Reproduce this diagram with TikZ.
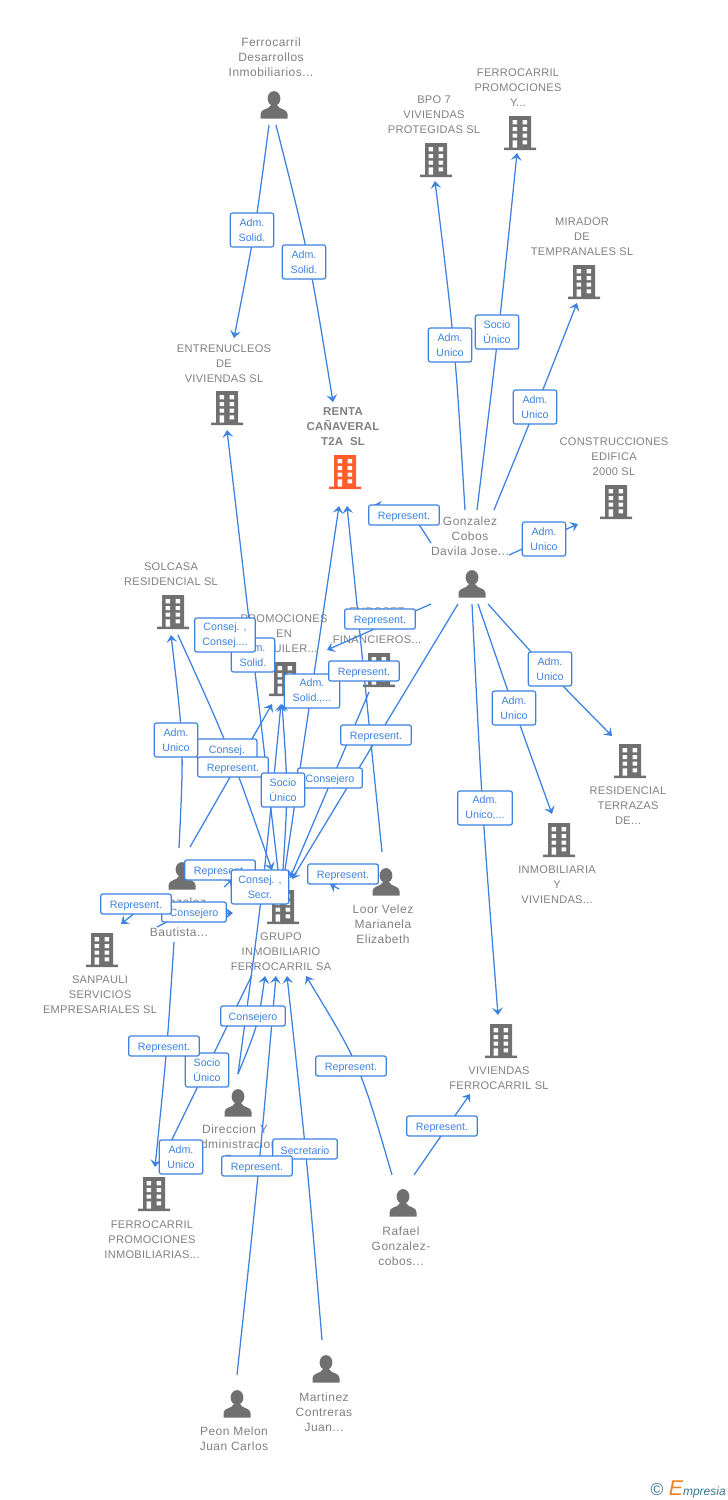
\documentclass[tikz,border=0pt]{standalone}
\usepackage{fontspec}
\setmainfont{Liberation Sans}
\newfontfamily\personfont[LetterSpace=4]{Liberation Sans}
\newfontfamily\orgfont[LetterSpace=2.5]{Liberation Sans}
\newfontfamily\mainorgfont[LetterSpace=2]{Liberation Sans}
\usetikzlibrary{arrows.meta}
\definecolor{linkblue}{RGB}{61,130,224}
\definecolor{icongray}{RGB}{112,112,112}
\definecolor{namegray}{RGB}{128,128,128}
\definecolor{mainorange}{RGB}{255,94,44}
\definecolor{logoteal}{RGB}{56,116,146}
\definecolor{logoorange}{RGB}{240,130,30}
\tikzset{
  link/.style={draw=linkblue,line width=0.95pt,-{Stealth[length=5.5pt,width=8pt,inset=2.2pt]}},
  tag/.style={draw=linkblue,fill=white,rounded corners=1.6pt,line width=0.9pt,text=linkblue,inner sep=0pt,
    align=center,minimum height=15pt,font=\fontsize{8}{11.25}\selectfont,execute at begin node={\rule{0pt}{8.2pt}}},
  tagone/.style={tag,minimum width=53pt},
  tagcons/.style={tag,minimum width=48.5pt},
  tagtwo/.style={tag,minimum width=32.5pt,minimum height=25.5pt},
  personname/.style={text=namegray,align=center,inner sep=0pt,font=\personfont\fontsize{9}{11.25}\selectfont},
  orgname/.style={text=namegray,align=center,inner sep=0pt,yshift=-0.75pt,font=\orgfont\fontsize{8.3}{11.25}\selectfont},
  person/.style={inner sep=0pt,minimum size=30pt,path picture={
    \fill[icongray] (0,6.5) ellipse (6.4 and 7.4);
    \fill[icongray] (-13.5,-13.5) -- (-13.5,-9) .. controls (-13.5,-3.5) and (-5,-5) .. (-3,0) -- (3,0) .. controls (5,-5) and (13.5,-3.5) .. (13.5,-9) -- (13.5,-13.5) -- cycle;}},
  building/.default=icongray,
  building/.style={inner sep=0pt,minimum size=30pt,path picture={
    \fill[#1] (-11,17) rectangle (11,-15) (-16,-14.6) rectangle (16,-17);
    \fill[white] (-7.5,13) rectangle (-3,8.7) (2.5,13) rectangle (7,8.7)
      (-7.5,6) rectangle (-3,2) (2.5,6) rectangle (7,2)
      (-7.5,-0.7) rectangle (-3,-4.7) (2.5,-0.7) rectangle (7,-4.7)
      (-7.5,-7.3) rectangle (-3,-14.6) (2.5,-7.3) rectangle (7,-11.3);}},
}
\begin{document}
\begin{tikzpicture}[x=0.75pt,y=0.75pt,yscale=-1,xscale=1]
\useasboundingbox (0,0) rectangle (728,1500);

% Persons
\node [person] (fd) at (274,105) {};
\node [person] (go) at (472,584) {};
\node [person] (lo) at (386,882) {};
\node [person] (ba) at (182,876) {};
\node [person] (di) at (238,1103) {};
\node [person] (ra) at (403,1203) {};
\node [person] (ma) at (326,1369) {};
\node [person] (pe) at (237,1404) {};
\node [personname] (fdname) at (271,57) {Ferrocarril\\Desarrollos\\Inmobiliarios...};
\node [personname] (goname) at (470,536) {Gonzalez\\Cobos\\Davila Jose...};
\node [personname] (loname) at (383,924) {Loor Velez\\Marianela\\Elizabeth};
\node [personname] (baname) at (179,917) {Gonzalez\\Jose\\Bautista...};
\node [personname] (diname) at (235,1144) {Direccion Y\\Administracion\\D...};
\node [personname] (raname) at (401,1246) {Rafael\\Gonzalez-\\cobos...};
\node [personname] (maname) at (324,1412) {Martinez\\Contreras\\Juan...};
\node [personname] (pename) at (234,1438.5) {Peon Melon\\Juan Carlos};

% Companies
\node [building] (fp) at (520,133) {};
\node [building] (bp) at (436,160) {};
\node [building] (mi) at (584,282) {};
\node [building] (en) at (227,408) {};
\node [building=mainorange] (re) at (345,472) {};
\node [building] (co) at (616,502) {};
\node [building] (so) at (173,612) {};
\node [building] (pr) at (285,679) {};
\node [building] (eu) at (379,670) {};
\node [building] (ti) at (630,761) {};
\node [building] (in) at (559,840) {};
\node [building] (vi) at (501,1041) {};
\node [building] (gr) at (283,907) {};
\node [building] (sa) at (102,950) {};
\node [building] (fi) at (154,1194) {};
\node [orgname] (fpname) at (518,87) {FERROCARRIL\\PROMOCIONES\\Y...};
\node [orgname] (bpname) at (434,114) {BPO 7\\VIVIENDAS\\PROTEGIDAS SL};
\node [orgname] (miname) at (582,236) {MIRADOR\\DE\\TEMPRANALES SL};
\node [orgname] (enname) at (224,363) {ENTRENUCLEOS\\DE\\VIVIENDAS SL};
\node [orgname,font=\mainorgfont\bfseries\fontsize{8.6}{11.25}\selectfont] (rename) at (343,426) {RENTA\\CAÑAVERAL\\T2A~~SL};
\node [orgname] (coname) at (614,456) {CONSTRUCCIONES\\EDIFICA\\2000 SL};
\node [orgname] (soname) at (171,573.5) {SOLCASA\\RESIDENCIAL SL};
\node [orgname] (prname) at (284,634) {PROMOCIONES\\EN\\ALQUILER...};
\node [orgname] (euname) at (377,625) {EUROSET\\[9.75pt]FINANCIEROS...};
\node [orgname] (tiname) at (628,805) {RESIDENCIAL\\TERRAZAS\\DE...};
\node [orgname] (inname) at (557,884) {INMOBILIARIA\\Y\\VIVIENDAS...};
\node [orgname] (viname) at (499,1077.5) {VIVIENDAS\\FERROCARRIL SL};
\node [orgname] (grname) at (281,951) {GRUPO\\INMOBILIARIO\\FERROCARRIL SA};
\node [orgname] (saname) at (100,994) {SANPAULI\\SERVICIOS\\EMPRESARIALES SL};
\node [orgname] (finame) at (152,1239) {FERROCARRIL\\PROMOCIONES\\INMOBILIARIAS...};

% Connector ends
\coordinate (fd-en) at (269,125);  \coordinate (en-fd) at (234,338);
\coordinate (fd-re) at (276,125);  \coordinate (re-fd) at (333,402);
\coordinate (go-bp) at (465,510);  \coordinate (bp-go) at (435,181);
\coordinate (go-fp) at (477,510);  \coordinate (fp-go) at (517,153);
\coordinate (go-mi) at (494,510);  \coordinate (mi-go) at (577,303);
\coordinate (go-re) at (431,543);  \coordinate (re-go) at (374,505);
\coordinate (go-co) at (509,555);  \coordinate (co-go) at (578,524);
\coordinate (go-ti) at (488,604);  \coordinate (ti-go) at (612,736);
\coordinate (go-in) at (478,604);  \coordinate (in-go) at (552,814);
\coordinate (go-vi) at (472,604);  \coordinate (vi-go) at (498,1015);
\coordinate (go-pr) at (431,604);  \coordinate (pr-go) at (327,650);
\coordinate (go-gr) at (458,604);  \coordinate (gr-go) at (292,879);
\coordinate (lo-re) at (382,852);  \coordinate (re-lo) at (347,506);
\coordinate (lo-gr) at (339,889);  \coordinate (gr-lo) at (330,884);
\coordinate (so-gr) at (178,635);  \coordinate (gr-so) at (272,870);
\coordinate (ba-so) at (179,848);  \coordinate (so-ba) at (171,635);
\coordinate (ba-pr) at (190,847);  \coordinate (pr-ba) at (272,704);
\coordinate (gr-en) at (278,870);  \coordinate (en-gr) at (227,430);
\coordinate (gr-pr) at (283,870);  \coordinate (pr-gr) at (282,704);
\coordinate (di-pr) at (238,1074); \coordinate (pr-di) at (281,704);
\coordinate (gr-re) at (285,870);  \coordinate (re-gr) at (339,506);
\coordinate (eu-gr) at (369,692);  \coordinate (gr-eu) at (290,878);
\coordinate (ba-gr) at (224,887);  \coordinate (gr-ba) at (233,879);
\coordinate (ba-sa) at (136,912);  \coordinate (sa-ba) at (121,924);
\coordinate (sa-gr) at (157,927);  \coordinate (gr-sa) at (233,913);
\coordinate (ba-fi) at (174,942);  \coordinate (fi-ba) at (155,1167);
\coordinate (gr-fi) at (252,975);  \coordinate (fi-gr) at (162,1160);
\coordinate (di-gr) at (238,1074); \coordinate (gr-di) at (265,976);
\coordinate (pe-gr) at (237,1375); \coordinate (gr-pe) at (276,976);
\coordinate (ma-gr) at (322,1340); \coordinate (gr-ma) at (287,976);
\coordinate (ra-gr) at (392,1175); \coordinate (gr-ra) at (306,976);
\coordinate (ra-vi) at (414,1175); \coordinate (vi-ra) at (470,1094);

% Connectors
\draw [link] (fd-en) .. controls (255,231) .. (en-fd);
\draw [link] (fd-re) .. controls (309,255) .. (re-fd);
\draw [link] (go-bp) .. controls (455,345) .. (bp-go);
\draw [link] (go-fp) .. controls (499,330) .. (fp-go);
\draw [link] (go-mi) .. controls (537,405) .. (mi-go);
\draw [link] (go-re) .. controls (410,510) .. (re-go);
\draw [link] (go-co) -- (co-go);
\draw [link] (go-ti) .. controls (548,671) .. (ti-go);
\draw [link] (go-in) .. controls (513,706) .. (in-go);
\draw [link] (go-vi) .. controls (482,808) .. (vi-go);
\draw [link] (go-pr) -- (pr-go);
\draw [link] (go-gr) -- (gr-go);
\draw [link] (lo-re) -- (re-lo);
\draw [link] (lo-gr) -- (gr-lo);
\draw [link] (so-gr) .. controls (228,745) .. (gr-so);
\draw [link] (ba-so) .. controls (184,745) .. (so-ba);
\draw [link] (ba-pr) -- (pr-ba);
\draw [link] (gr-en) -- (en-gr);
\draw [link] (gr-pr) .. controls (288,790) .. (pr-gr);
\draw [link] (di-pr) .. controls (263,890) .. (pr-di);
\draw [link] (gr-re) -- (re-gr);
\draw [link] (eu-gr) -- (gr-eu);
\draw [link] (ba-gr) -- (gr-ba);
\draw [link] (ba-sa) -- (sa-ba);
\draw [link] (sa-gr) .. controls (180,915) .. (gr-sa);
\draw [link] (ba-fi) .. controls (167,1050) .. (fi-ba);
\draw [link] (gr-fi) -- (fi-gr);
\draw [link] (di-gr) .. controls (258,1025) .. (gr-di);
\draw [link] (pe-gr) .. controls (259,1170) .. (gr-pe);
\draw [link] (ma-gr) .. controls (307,1160) .. (gr-ma);
\draw [link] (ra-gr) .. controls (360,1065) .. (gr-ra);
\draw [link] (ra-vi) -- (vi-ra);

% Connector labels
\node [tagtwo] (t1) at (252,230) {Adm.\\Solid.};
\node [tagtwo] (t2) at (304,262) {Adm.\\Solid.};
\node [tagtwo] (t3) at (450,345) {Adm.\\Unico};
\node [tagtwo] (t4) at (497,332) {Socio\\Único};
\node [tagtwo] (t5) at (535,407) {Adm.\\Unico};
\node [tagone] (t6) at (404,515) {Represent.};
\node [tagtwo] (t7) at (544,539) {Adm.\\Unico};
\node [tagtwo] (t8) at (550,669) {Adm.\\Unico};
\node [tagtwo] (t9) at (514,708) {Adm.\\Unico};
\node [tagtwo,minimum width=41pt] (t10) at (485,808) {Adm.\\Unico,...};
\node [tagtwo] (t11) at (253,655) {Adm.\\Solid.};
\node [tagtwo,minimum width=45.5pt] (t12) at (225,635) {Consej. ,\\Consej....};
\node [tagone] (t13) at (380,619) {Represent.};
\node [tagtwo,minimum width=41.5pt] (t14) at (312,691) {Adm.\\Solid.,...};
\node [tagone] (t15) at (364,671) {Represent.};
\node [tagone] (t16) at (376,735) {Represent.};
\node [tagone,minimum width=45pt] (t17) at (227,749) {Consej.};
\node [tagtwo] (t18) at (176,740) {Adm.\\Unico};
\node [tagone] (t19) at (233,767) {Represent.};
\node [tagcons] (t20) at (330,778) {Consejero};
\node [tagtwo] (t21) at (283,790) {Socio\\Único};
\node [tagone] (t22) at (220,870) {Represent.};
\node [tagtwo,minimum width=43pt] (t23) at (260,887) {Consej. ,\\Secr.};
\node [tagone] (t24) at (343,874) {Represent.};
\node [tagcons] (t25) at (194,912) {Consejero};
\node [tagone] (t26) at (136,904) {Represent.};
\node [tagcons] (t27) at (253,1016) {Consejero};
\node [tagtwo] (t28) at (207,1070) {Socio\\Único};
\node [tagone] (t29) at (164,1046) {Represent.};
\node [tagone] (t30) at (351,1066) {Represent.};
\node [tagone] (t31) at (442,1126) {Represent.};
\node [tagtwo] (t32) at (181,1157) {Adm.\\Unico};
\node [tagcons] (t33) at (305,1149) {Secretario};
\node [tagone] (t34) at (257,1166) {Represent.};

% Logo
\node [text=logoteal,inner sep=0pt,font=\fontsize{13}{13}\selectfont] (copyr) at (657,1489) {©};
\node [anchor=east,inner sep=0pt,text=logoteal,font=\itshape\fontsize{9}{9}\selectfont] (logo) at (726,1489) {\textcolor{logoorange}{\fontsize{16}{16}\selectfont E}mpresia};
\end{tikzpicture}
\end{document}
